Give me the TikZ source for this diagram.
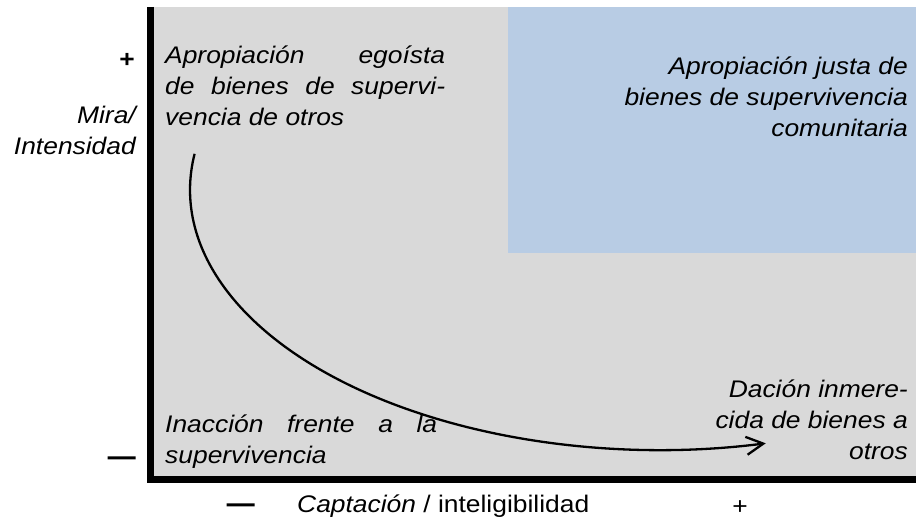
\documentclass[tikz,border=0pt]{standalone}
\usepackage{fontspec}
\setmainfont{Liberation Sans}[FakeStretch=1.1]
\newfontfamily\heavydash{Liberation Sans}[FakeStretch=1.1, FakeBold=6]
\usetikzlibrary{arrows.meta}
\def\fieldbox{(150,41) rectangle (916,512)}
\def\justbox{(508,266) rectangle (916,512)}
\colorlet{field area}{black!15}
\definecolor{just area}{HTML}{B8CCE4}
\tikzset{field/.style={fill=field area},
	just/.style={fill=just area},
	axis/.style={draw=black, line width=7pt, line join=miter},
	cell/.style={inner sep=0pt, font=\fontsize{24}{31}\selectfont\itshape},
	sign/.style={inner sep=0pt, font=\fontsize{24}{31}\selectfont},
	swing/.style={draw, line width=2.3pt, -{Straight Barb[length=17pt,width=18pt]}}}

\begin{document}
\begin{tikzpicture}[x=1pt,y=1pt]
		\useasboundingbox (0,0) rectangle (916,519);
		\fill[field] \fieldbox;
		\fill[just] \justbox;
		\draw[axis] (150.5,512) -- (150.5,39) -- (916,39);
		
		% text width nodes sit on their first line, the others on their last
		\node[cell, text width=280pt, align=justify, anchor=base west] (egoist) at (165,455) {Apropiación egoísta\linebreak de bienes de supervi-\linebreak vencia de otros};
		\node[cell, align=right, anchor=base east] (fair) at (908,382) {Apropiación justa de\\bienes de supervivencia\\comunitaria};
		\node[cell, text width=272pt, align=justify, anchor=base west] (inaction) at (165,86) {Inacción frente a la\linebreak supervivencia};
		\node[cell, align=right, anchor=base east] (gift) at (908,59) {Dación inmere-\\cida de bienes a\\otros};
		
		\node[cell, align=right, anchor=base east] (mira) at (136,364) {Mira/\\Intensidad};
		\node[sign, font=\fontsize{24}{31}\selectfont\bfseries, anchor=base east] (yplus) at (135,451) {+};
		\node[sign, font=\fontsize{24}{31}\heavydash, anchor=base east] (yminus) at (135,55) {—};
		\node[sign, font=\fontsize{24}{31}\heavydash, anchor=base east] (xminus) at (254,8) {—};
		\node[sign, anchor=base west] (capta) at (297,6) {\itshape Captación\upshape{} / inteligibilidad};
		\node[sign, anchor=base] (xplus) at (740,4) {+};
		
		\coordinate (arcstart) at (194.6,365.2);
		\draw[swing] (arcstart) arc[start angle=172, end angle=283, x radius=470pt, y radius=260pt];
		\end{tikzpicture}
\end{document}
